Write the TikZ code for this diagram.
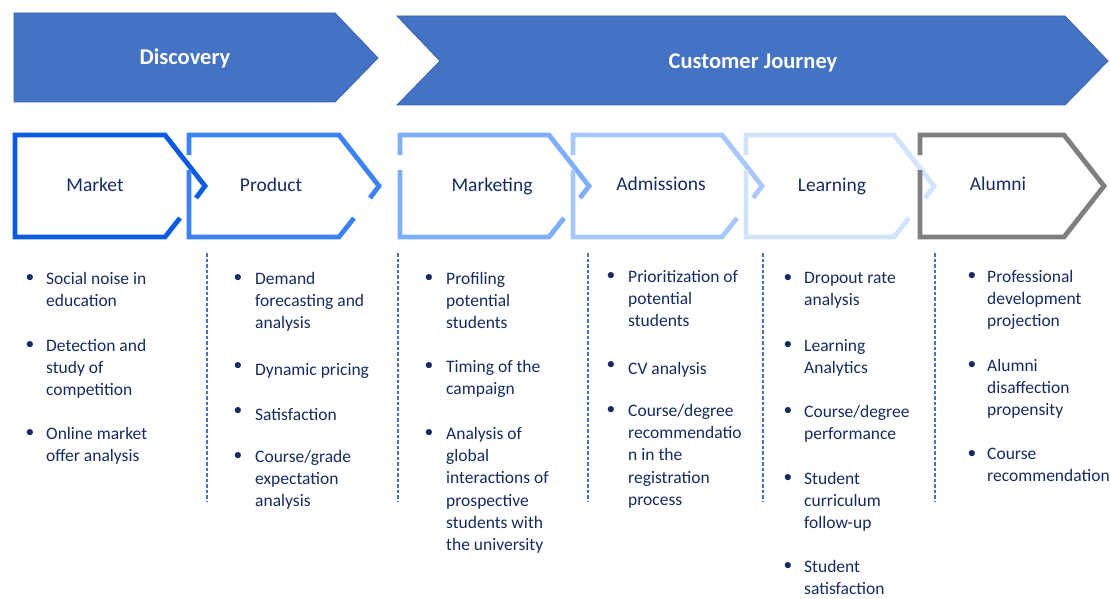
\documentclass[tikz,border=0pt]{standalone}
\usepackage{fontspec}
\setmainfont{Carlito}
\usetikzlibrary{calc}
\definecolor{banner}{HTML}{4472C4}
\definecolor{bannerline}{HTML}{3A62A8}
\definecolor{navy}{HTML}{172B63}
\definecolor{cMarket}{HTML}{0D5BE1}
\definecolor{cProduct}{HTML}{3B82F6}
\definecolor{cMarketing}{HTML}{7FAEFC}
\definecolor{cAdmissions}{HTML}{A9C8FA}
\definecolor{cLearning}{HTML}{D2E3FC}
\definecolor{cAlumni}{HTML}{7F7F7F}
\definecolor{sepblue}{HTML}{4472C4}
\tikzset{
  bannershape/.style={fill=banner, draw=bannerline, line width=0.8pt},
  bannertext/.style={text=white, font=\fontsize{22.5}{26}\selectfont\bfseries, anchor=base, inner sep=0pt},
  chevline/.style={line width=4.8pt, line cap=butt, line join=miter},
  chevlabel/.style={text=navy, font=\fontsize{19.5}{23}\selectfont, anchor=base, inner sep=0pt},
  itemtext/.style={text=navy, font=\fontsize{17.5}{22.3}\selectfont, align=left, anchor=north west, inner sep=0pt, yshift=13pt, execute at begin node=\strut},
  bulletmark/.style={text=navy, font=\fontsize{17.5}{22.3}\selectfont, anchor=base, inner sep=0pt, yshift=2.5pt},
  sepline/.style={draw=sepblue, line width=1.3pt, dash pattern=on 3.5pt off 2pt}
}
\begin{document}
\begin{tikzpicture}[x=1pt, y=-1pt]
\useasboundingbox (0,0) rectangle (1110,599);
\clip (0,0) rectangle (1110,599);
\fill[white] (0,0) rectangle (1110,599);

% Top banners
\draw[bannershape] (14,13) -- (335,13) -- (378,58) -- (335,102) -- (14,102) -- cycle;
\node[bannertext] (discovery) at (185,65) {Discovery};
\draw[bannershape] (397,16) -- (1065,16) -- (1108,61) -- (1065,105) -- (397,105) -- (440,61) -- cycle;
\node[bannertext] (journey) at (753,69) {Customer Journey};

% Chevrons (outlined)
\draw[chevline, draw=cMarket] (196,198) -- (205,186) -- (165,135) -- (15,135) -- (15,237) -- (165,237) -- (180,218);
\draw[chevline, draw=cProduct] (189,170) -- (189,237) -- (339,237) -- (354,218);
\draw[chevline, draw=cProduct] (370,198) -- (379,186) -- (339,135) -- (189,135) -- (189,155);
\draw[chevline, draw=cMarketing] (400,170) -- (400,237) -- (549,237) -- (564,218);
\draw[chevline, draw=cMarketing] (580,198) -- (589,186) -- (549,135) -- (400,135) -- (400,155);
\draw[chevline, draw=cAdmissions] (573,170) -- (573,237) -- (722,237) -- (737,218);
\draw[chevline, draw=cAdmissions] (753,198) -- (762,186) -- (722,135) -- (573,135) -- (573,155);
\draw[chevline, draw=cLearning] (746,170) -- (746,237) -- (894,237) -- (909,218);
\draw[chevline, draw=cLearning] (925,198) -- (934,186) -- (894,135) -- (746,135) -- (746,155);
\draw[chevline, draw=cAlumni] (920,170) -- (920,237) -- (1064,237) -- (1104,186) -- (1064,135) -- (920,135) -- (920,155);

\node[chevlabel] (market) at (95,191) {Market};
\node[chevlabel] (product) at (271,191) {Product};
\node[chevlabel] (marketing) at (492,191) {Marketing};
\node[chevlabel] (admissions) at (661,190) {Admissions};
\node[chevlabel] (learning) at (832,191) {Learning};
\node[chevlabel] (alumni) at (998,190) {Alumni};

% Dashed separators
\coordinate (s1a) at (207,253); \coordinate (s1b) at (207,502);
\coordinate (s2a) at (398,253); \coordinate (s2b) at (398,502);
\coordinate (s3a) at (588,253); \coordinate (s3b) at (588,502);
\coordinate (s4a) at (763,253); \coordinate (s4b) at (763,502);
\coordinate (s5a) at (935,253); \coordinate (s5b) at (935,502);
\draw[sepline] (s1a) -- (s1b);
\draw[sepline] (s2a) -- (s2b);
\draw[sepline] (s3a) -- (s3b);
\draw[sepline] (s4a) -- (s4b);
\draw[sepline] (s5a) -- (s5b);

% Column 1: Market
\node[bulletmark] (b11) at (30,285) {•};
\node[itemtext] (t11) at (46,285) {Social noise in\\education};
\node[bulletmark] (b12) at (30,352) {•};
\node[itemtext] (t12) at (46,352) {Detection and\\study of\\competition};
\node[bulletmark] (b13) at (30,440) {•};
\node[itemtext] (t13) at (46,440) {Online market\\offer analysis};

% Column 2: Product
\node[bulletmark] (b21) at (238,285) {•};
\node[itemtext] (t21) at (255,285) {Demand\\forecasting and\\analysis};
\node[bulletmark] (b22) at (238,373) {•};
\node[itemtext] (t22) at (255,373) {Dynamic pricing};
\node[bulletmark] (b23) at (238,418) {•};
\node[itemtext] (t23) at (255,418) {Satisfaction};
\node[bulletmark] (b24) at (238,463) {•};
\node[itemtext] (t24) at (255,463) {Course/grade\\expectation\\analysis};

% Column 3: Marketing
\node[bulletmark] (b31) at (429,285) {•};
\node[itemtext] (t31) at (446,285) {Profiling\\potential\\students};
\node[bulletmark] (b32) at (429,373) {•};
\node[itemtext] (t32) at (446,373) {Timing of the\\campaign};
\node[bulletmark] (b33) at (429,440) {•};
\node[itemtext] (t33) at (446,440) {Analysis of\\global\\interactions of\\prospective\\students with\\the university};

% Column 4: Admissions
\node[bulletmark] (b41) at (611,283) {•};
\node[itemtext] (t41) at (628,283) {Prioritization of\\potential\\students};
\node[bulletmark] (b42) at (611,372) {•};
\node[itemtext] (t42) at (628,372) {CV analysis};
\node[bulletmark] (b43) at (611,417) {•};
\node[itemtext] (t43) at (628,417) {Course/degree\\recommendatio\\n in the\\registration\\process};

% Column 5: Learning
\node[bulletmark] (b51) at (788,285) {•};
\node[itemtext] (t51) at (804,285) {Dropout rate\\analysis};
\node[bulletmark] (b52) at (788,352) {•};
\node[itemtext] (t52) at (804,352) {Learning\\Analytics};
\node[bulletmark] (b53) at (788,418) {•};
\node[itemtext] (t53) at (804,418) {Course/degree\\performance};
\node[bulletmark] (b54) at (788,485) {•};
\node[itemtext] (t54) at (804,485) {Student\\curriculum\\follow-up};
\node[bulletmark] (b55) at (788,573) {•};
\node[itemtext] (t55) at (804,573) {Student\\satisfaction};

% Column 6: Alumni
\node[bulletmark] (b61) at (972,283) {•};
\node[itemtext] (t61) at (987,283) {Professional\\development\\projection};
\node[bulletmark] (b62) at (972,372) {•};
\node[itemtext] (t62) at (987,372) {Alumni\\disaffection\\propensity};
\node[bulletmark] (b63) at (972,461) {•};
\node[itemtext] (t63) at (987,461) {Course\\recommendation};
\end{tikzpicture}
\end{document}
